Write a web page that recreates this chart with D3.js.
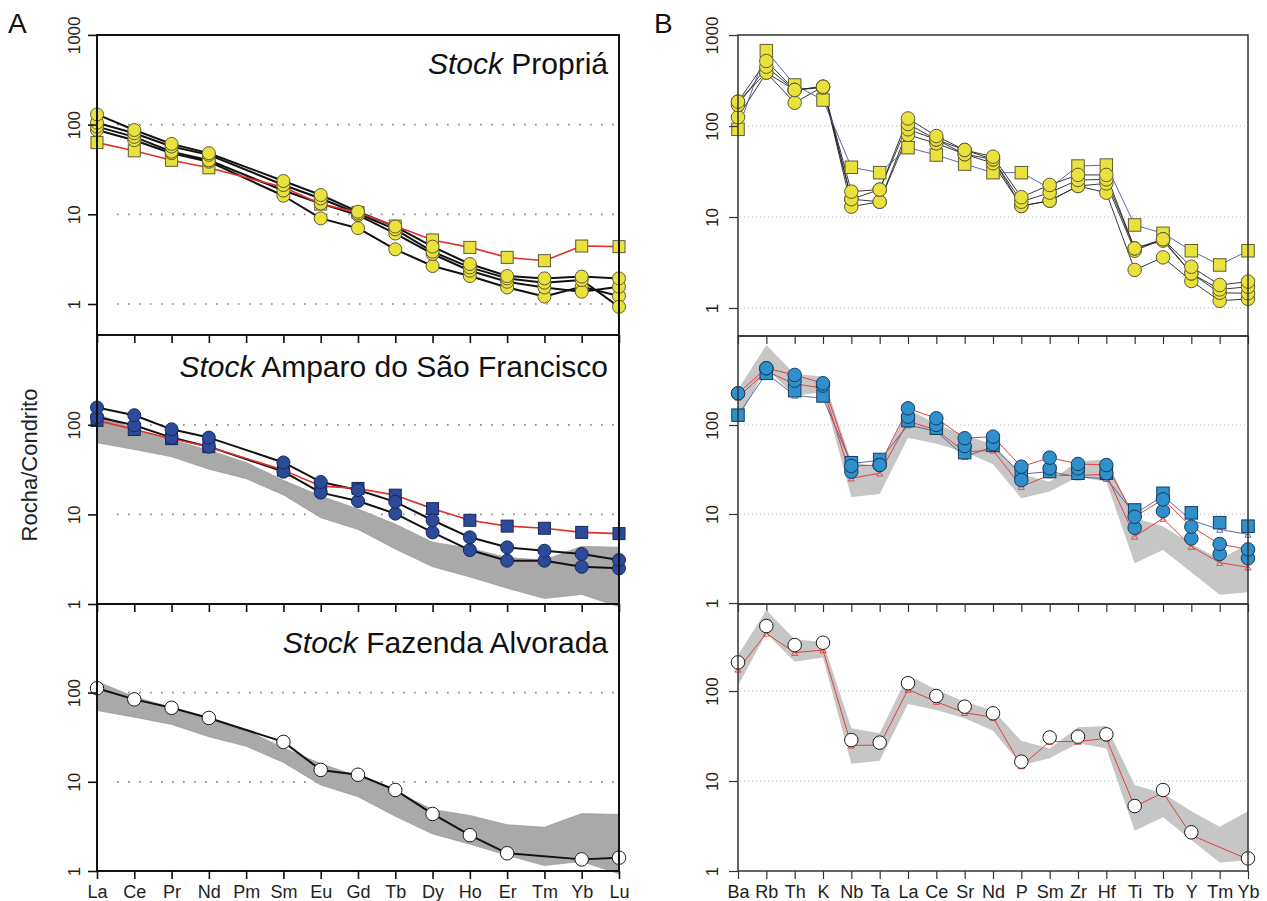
<!DOCTYPE html>
<html>
<head>
<meta charset="utf-8">
<script src="https://cdn.jsdelivr.net/npm/d3@7"></script>
<style>
  body { margin: 0; background: #fff; }
  svg { display: block; font-family: "Liberation Sans", Arial, sans-serif; }
</style>
</head>
<body>
<script>
// ---------- categories ----------
const REE = ["La","Ce","Pr","Nd","Pm","Sm","Eu","Gd","Tb","Dy","Ho","Er","Tm","Yb","Lu"];
const SPIDER = ["Ba","Rb","Th","K","Nb","Ta","La","Ce","Sr","Nd","P","Sm","Zr","Hf","Ti","Tb","Y","Tm","Yb"];

// ---------- A: REE normalised to chondrite ----------
// Stock Propriá
const proprSq = [63, 51, 40, 33, null, 20, 13, 10.5, 7.4, 5.17, 4.28, 3.31, 3.04, 4.43, 4.36];
const proprC1 = [130, 87, 61, 48, null, 23.5, 16.4, 10.7, 7.3, 4.36, 2.79, 2.05, 1.93, 2.02, 1.93];
const proprC2 = [105, 80, 57, 46, null, 21.2, 15, 10.2, 6.8, 3.83, 2.56, 1.93, 1.73, 1.85, 0.93];
const proprC3 = [95, 73, 50, 40, null, 18.4, 13.2, 9.8, 6.1, 3.61, 2.35, 1.77, 1.53, 1.37, 1.56];
const proprC4 = [87, 67, 48, 38.6, null, 16.1, 9.0, 7.0, 4.07, 2.65, 2.05, 1.53, 1.21, 1.56, 1.23];
// Stock Amparo do São Francisco
const amparoSq = [112, 88.7, 70, 57, null, 31.2, 20.7, 19.5, 16.4, 11.6, 8.6, 7.4, 7.0, 6.3, 6.1];
const amparoC1 = [156, 128, 89, 72, null, 38, 23, 18.7, 13.8, 8.6, 5.55, 4.29, 3.93, 3.61, 3.1];
const amparoC2 = [122, 99, 72, 57, null, 30, 17.5, 14.1, 10.2, 6.3, 4.0, 3.04, 3.04, 2.6, 2.5];
// Stock Fazenda Alvorada
const fazenda = [112, 84, 67.5, 52, null, 28, 13.6, 12.0, 8.1, 4.36, 2.52, 1.58, null, 1.35, 1.41];
// Propriá field (grey envelope)
const fieldReeMax = [133, 90, 68, 52, 38, 24, 16, 11.5, 7.8, 4.9, 4.2, 3.3, 3.1, 4.4, 4.3];
const fieldReeMin = [63, 53, 44, 32, 25, 16.5, 9.2, 6.8, 4.1, 2.6, 2.0, 1.5, 1.15, 1.28, 0.93];

// ---------- B: multi-element spider diagrams ----------
const proprBSq = [92, 673, 282, 193, 35.2, 30.7, 57.8, 48, 38.2, 30.7, 30.7, 20.7, 36.3, 37.2, 8.17, 6.62, 4.26, 2.97, 4.26];
const proprBC1 = [185, 518, 249, 270, 19, 20, 121, 77.6, 54.5, 46, 16.5, 22.5, 29, 29, 4.52, 5.7, 2.84, 1.79, 1.95];
const proprBC2 = [170, 449, 249, 265, 15.7, 20, 105, 71, 54.5, 43, 14.7, 18.5, 25.5, 25.9, 4.52, 5.5, 2.4, 1.6, 1.71];
const proprBC3 = [185, 386, 249, 270, 13, 14.7, 92, 71, 49, 43, 13.2, 15.1, 21.9, 23.4, 4.26, 5.7, 2.4, 1.47, 1.45];
const proprBC4 = [125, 386, 180, 270, 15.7, 14.7, 80, 64.5, 49, 39, 13.2, 15.1, 21.9, 18.5, 2.62, 3.6, 1.98, 1.2, 1.26];

const amparoBSq = [129, 381, 243, 212, 37.7, 41, 112, 92, 49, 59, 29, 30, 28.7, 28.7, 11.1, 17.1, 10.3, 8.0, 7.3];
const amparoBSqLine = [129, 381, 215, 200, 37, 40, 100, 85, 44, 57, 28, 30, 26, 25, 10, 16, 8.5, 6.7, 5.9];
const amparoBC1 = [227, 434, 365, 294, 34.6, 35.5, 154, 119, 71, 74, 34, 43, 36.5, 35.5, 9.3, 14.6, 7.2, 4.6, 4.0];
const amparoBC2 = [227, 434, 315, 277, 29.9, 35.5, 124, 100, 58, 61, 24, 32.6, 32.6, 28.7, 7.0, 10.8, 5.3, 3.55, 3.18];
const amparoBC2Line = [205, 400, 290, 260, 25.2, 28.7, 110, 88, 50, 52, 20.3, 27.4, 27, 28, 5.6, 8.9, 4.3, 2.84, 2.52];

const fazendaB = [208, 527, 324, 344, 28.5, 26.7, 122, 88, 67, 56.5, 16.4, 30.5, 31.1, 33, 5.27, 7.94, 2.69, null, 1.38];
const fazendaBLine = [174, 437, 267, 285, 24.9, 25, 104, 76, 57.4, 51, 14.7, 27.4, 27.4, 29.8, 5.2, 7.4, 2.5, null, 1.35];

const fieldSpMax = [250, 790, 375, 350, 38.5, 34, 150, 103, 76, 61, 28, 23, 39.5, 40.8, 9.0, 7.3, 4.6, 3.1, 4.6];
const fieldSpMin = [115, 437, 212, 235, 15.5, 16.8, 71.7, 61.5, 49.7, 36.2, 15, 17.9, 26.2, 23, 2.8, 3.95, 2.21, 1.24, 1.32];

// ---------- styles ----------
const YELLOW = { fill: "#e9e13c", stroke: "#5e5b38" };
const NAVY   = { fill: "#2c4a9a", stroke: "#18285e" };
const SKY    = { fill: "#2f90cc", stroke: "#163c5e" };
const WHITE  = { fill: "#ffffff", stroke: "#1a1a1a" };

const W = 1267, H = 901;
const svg = d3.select("body").append("svg").attr("width", W).attr("height", H);

function drawPanel(p) {
  const g = svg.append("g");
  const x = d3.scalePoint().domain(p.cats).range([p.x0, p.x1]);
  const y = d3.scaleLog()
    .domain([Math.pow(10, (p.y1 - p.botY) / p.dec), Math.pow(10, (p.y1 - p.topY) / p.dec)])
    .range([p.botY, p.topY]);

  // dotted reference lines
  g.selectAll("line.grid").data(p.grid).join("line")
    .attr("class", "grid")
    .attr("x1", p.x0 + p.gridInset).attr("x2", p.x1 - 3)
    .attr("y1", d => y(d)).attr("y2", d => y(d))
    .attr("stroke", p.gridColor).attr("stroke-width", p.gridWidth)
    .attr("stroke-dasharray", p.gridDash);

  // grey envelope
  if (p.band) {
    const pts = p.cats.map((c, i) => ({ c, lo: p.band.lo[i], hi: p.band.hi[i] }))
      .filter(d => d.lo != null && d.hi != null);
    g.append("path").datum(pts)
      .attr("d", d3.area().x(d => x(d.c)).y0(d => y(d.lo)).y1(d => y(d.hi)))
      .attr("fill", p.band.fill)
      .attr("stroke", p.band.stroke || "none")
      .attr("stroke-width", 0.6);
  }

  // connecting lines
  p.lines.forEach(s => {
    const pts = p.cats.map((c, i) => ({ c, v: s.values[i] })).filter(d => d.v != null);
    g.append("path").datum(pts)
      .attr("d", d3.line().x(d => x(d.c)).y(d => y(d.v)))
      .attr("fill", "none")
      .attr("stroke", s.color)
      .attr("stroke-width", s.width)
      .attr("stroke-linejoin", "round");
    if (s.tri) {
      g.selectAll(null).data(pts).join("path")
        .attr("transform", d => `translate(${x(d.c)},${y(d.v) + 1})`)
        .attr("d", d3.symbol(d3.symbolTriangle, 16)())
        .attr("fill", "none")
        .attr("stroke", s.color)
        .attr("stroke-width", 0.9);
    }
  });

  // symbols
  p.marks.forEach(m => {
    const pts = p.cats.map((c, i) => ({ c, v: m.values[i] })).filter(d => d.v != null);
    if (m.shape === "square") {
      g.selectAll(null).data(pts).join("rect")
        .attr("x", d => x(d.c) - m.size / 2).attr("y", d => y(d.v) - m.size / 2)
        .attr("width", m.size).attr("height", m.size)
        .attr("fill", m.style.fill).attr("stroke", m.style.stroke).attr("stroke-width", 1);
    } else {
      g.selectAll(null).data(pts).join("circle")
        .attr("cx", d => x(d.c)).attr("cy", d => y(d.v)).attr("r", m.size / 2)
        .attr("fill", m.style.fill).attr("stroke", m.style.stroke).attr("stroke-width", 1);
    }
  });

  // frame
  g.append("rect")
    .attr("x", p.x0).attr("y", p.topY)
    .attr("width", p.x1 - p.x0).attr("height", p.botY - p.topY)
    .attr("fill", "none").attr("stroke", p.frameColor).attr("stroke-width", p.frameWidth);

  // left (log) axis with rotated labels
  const ax = g.append("g").attr("transform", `translate(${p.x0},0)`)
    .call(d3.axisLeft(y).tickValues(p.ticks).tickFormat(d3.format("d")).tickSize(9).tickSizeOuter(0));
  ax.select(".domain").remove();
  ax.selectAll(".tick line").attr("stroke", p.frameColor).attr("stroke-width", p.frameWidth * 0.8);
  ax.selectAll(".tick text")
    .attr("transform", "rotate(-90)")
    .attr("x", 0).attr("y", p.labOff).attr("dy", null)
    .attr("text-anchor", "middle")
    .attr("font-family", "Liberation Sans, Arial, sans-serif")
    .attr("font-size", 17).attr("fill", "#222");

  // bottom category ticks
  const bx = g.append("g").attr("transform", `translate(0,${p.botY})`)
    .call(d3.axisBottom(x).tickSize(8).tickSizeOuter(0));
  bx.select(".domain").remove();
  bx.selectAll(".tick line").attr("stroke", p.frameColor).attr("stroke-width", p.frameWidth * 0.8);
  if (p.labels) {
    bx.selectAll(".tick text")
      .attr("y", 27).attr("dy", null)
      .attr("font-family", "Liberation Sans, Arial, sans-serif")
      .attr("font-size", 18).attr("fill", "#222");
  } else {
    bx.selectAll(".tick text").remove();
  }

  // panel title
  if (p.title) {
    const t = g.append("text")
      .attr("x", p.x1 - 11).attr("y", p.titleY)
      .attr("text-anchor", "end")
      .attr("font-size", 30).attr("fill", "#111");
    t.append("tspan").attr("font-style", "italic").text("Stock");
    t.append("tspan").text(" " + p.title);
  }
}

// ---------- column A ----------
const colA = {
  cats: REE, x0: 97, x1: 619, labOff: -17,
  frameColor: "#111", frameWidth: 2,
  gridColor: "#8c8c8c", gridWidth: 1.7, gridDash: "1.7,9.3", gridInset: 20
};
const lineA = v => ({ values: v, color: "#111", width: 2 });
const redA = v => ({ values: v, color: "#e2302a", width: 1.6 });

drawPanel({ ...colA, topY: 35, botY: 335, y1: 304, dec: 89.7,
  ticks: [1, 10, 100, 1000], grid: [1, 10, 100],
  title: "Propriá", titleY: 74,
  lines: [lineA(proprC1), lineA(proprC2), lineA(proprC3), lineA(proprC4), redA(proprSq)],
  marks: [
    { values: proprSq, shape: "square", size: 12, style: YELLOW },
    { values: proprC4, shape: "circle", size: 13, style: YELLOW },
    { values: proprC3, shape: "circle", size: 13, style: YELLOW },
    { values: proprC2, shape: "circle", size: 13, style: YELLOW },
    { values: proprC1, shape: "circle", size: 13, style: YELLOW }
  ] });

drawPanel({ ...colA, topY: 335, botY: 604, y1: 604, dec: 89.6,
  ticks: [1, 10, 100], grid: [10, 100],
  title: "Amparo do São Francisco", titleY: 377,
  band: { lo: fieldReeMin, hi: fieldReeMax, fill: "#a9a9a9", stroke: "#8f8f8f" },
  lines: [lineA(amparoC1), lineA(amparoC2), redA(amparoSq)],
  marks: [
    { values: amparoSq, shape: "square", size: 12, style: NAVY },
    { values: amparoC2, shape: "circle", size: 13, style: NAVY },
    { values: amparoC1, shape: "circle", size: 13, style: NAVY }
  ] });

drawPanel({ ...colA, topY: 604, botY: 871, y1: 871, dec: 89.2,
  ticks: [1, 10, 100], grid: [10, 100], labels: true,
  title: "Fazenda Alvorada", titleY: 653,
  band: { lo: fieldReeMin, hi: fieldReeMax, fill: "#a9a9a9", stroke: "#8f8f8f" },
  lines: [lineA(fazenda)],
  marks: [{ values: fazenda, shape: "circle", size: 13.5, style: WHITE }] });

// ---------- column B ----------
const colB = {
  cats: SPIDER, x0: 738, x1: 1248, labOff: -20,
  frameColor: "#333", frameWidth: 1.5,
  gridColor: "#b5b5b5", gridWidth: 1, gridDash: "1,3", gridInset: 2
};
const lineB = v => ({ values: v, color: "#222", width: 0.9 });
const blueB = (v, tri) => ({ values: v, color: "#4b56a8", width: 0.9, tri });
const redB = (v, tri) => ({ values: v, color: "#e2403a", width: 1, tri });

drawPanel({ ...colB, topY: 35, botY: 336, y1: 308, dec: 91,
  ticks: [1, 10, 100, 1000], grid: [1, 10, 100],
  lines: [lineB(proprBC1), lineB(proprBC2), lineB(proprBC3), lineB(proprBC4), blueB(proprBSq)],
  marks: [
    { values: proprBSq, shape: "square", size: 12.5, style: YELLOW },
    { values: proprBC4, shape: "circle", size: 13.5, style: YELLOW },
    { values: proprBC3, shape: "circle", size: 13.5, style: YELLOW },
    { values: proprBC2, shape: "circle", size: 13.5, style: YELLOW },
    { values: proprBC1, shape: "circle", size: 13.5, style: YELLOW }
  ] });

drawPanel({ ...colB, topY: 336, botY: 604, y1: 603, dec: 89,
  ticks: [1, 10, 100], grid: [10, 100],
  band: { lo: fieldSpMin, hi: fieldSpMax, fill: "#c6c6c6" },
  lines: [blueB(amparoBSqLine, true), redB(amparoBC1), redB(amparoBC2Line, true)],
  marks: [
    { values: amparoBSq, shape: "square", size: 12.5, style: SKY },
    { values: amparoBC2, shape: "circle", size: 13.5, style: SKY },
    { values: amparoBC1, shape: "circle", size: 13.5, style: SKY }
  ] });

drawPanel({ ...colB, topY: 604, botY: 871, y1: 871, dec: 90,
  ticks: [1, 10, 100], grid: [10, 100], labels: true,
  band: { lo: fieldSpMin, hi: fieldSpMax, fill: "#c6c6c6" },
  lines: [redB(fazendaBLine, true)],
  marks: [{ values: fazendaB, shape: "circle", size: 13.5, style: WHITE }] });

// ---------- shared labels ----------
svg.append("text")
  .attr("transform", "translate(37,465) rotate(-90)")
  .attr("text-anchor", "middle")
  .attr("font-size", 22).attr("fill", "#222")
  .text("Rocha/Condrito");

svg.append("text").attr("x", 8).attr("y", 33).attr("font-size", 28).attr("fill", "#111").text("A");
svg.append("text").attr("x", 654).attr("y", 33).attr("font-size", 28).attr("fill", "#111").text("B");
</script>
</body>
</html>
